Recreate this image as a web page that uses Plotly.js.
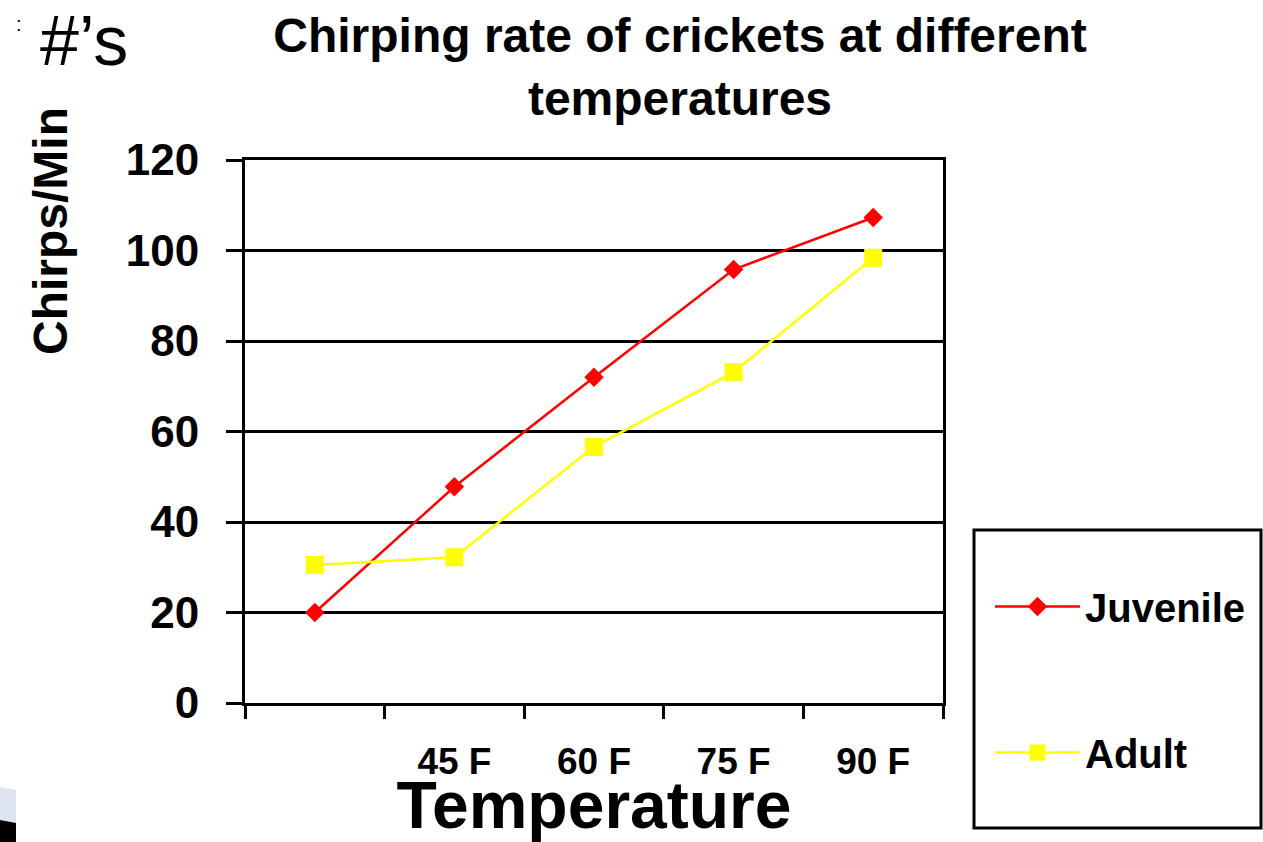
<!DOCTYPE html>
<html>
<head>
<meta charset="utf-8">
<script src="https://cdn.plot.ly/plotly-3.0.1.min.js"></script>
<style>
  html, body { margin: 0; padding: 0; background: #ffffff; }
  #chart { width: 1263px; height: 842px; }
</style>
</head>
<body>
<div id="chart"></div>
<script>
// ---- data ----
const categoryIndex = [0, 1, 2, 3, 4];
const tickLabels = ["", "45 F", "60 F", "75 F", "90 F"];
const juvenile = [20, 47.8, 72, 95.8, 107.3];
const adult = [30.5, 32.2, 56.6, 73.1, 98.4];
const yTicks = [0, 20, 40, 60, 80, 100, 120];
const seriesNames = ["Juvenile", "Adult"];

const FONT = "Arial, 'Liberation Sans', sans-serif";
const boundaries = [-0.5, 0.5, 1.5, 2.5, 3.5, 4.5];

const traces = [
  {
    x: categoryIndex, y: juvenile, name: seriesNames[0], type: "scatter", mode: "lines+markers",
    legendgroup: "g1",
    line: { color: "#ff0000", width: 2.5 },
    marker: { symbol: "diamond", size: 15, color: "#ff0000" }
  },
  {
    x: categoryIndex, y: adult, name: seriesNames[1], type: "scatter", mode: "lines+markers",
    legendgroup: "g2",
    line: { color: "#ffff00", width: 2.5 },
    marker: { symbol: "square", size: 18, color: "#ffff00" }
  }
];

const L = 245, R = 943, T = 160, B = 703;
const px = v => (v - L) / (R - L);
const py = v => (B - v) / (B - T);

const layout = {
  width: 1263, height: 842,
  margin: { l: L, r: 1263 - R, t: T, b: 842 - B },
  paper_bgcolor: "#ffffff", plot_bgcolor: "#ffffff",
  font: { family: FONT, color: "#000000" },
  showlegend: true,
  title: {
    text: "<b>Chirping rate of crickets at different<br>temperatures</b>",
    font: { family: FONT, size: 48, color: "#000000" },
    x: 680 / 1263, xanchor: "center", y: 0.938, yanchor: "top"
  },
  xaxis: {
    range: [-0.5, 4.5],
    tickmode: "array", tickvals: categoryIndex, ticktext: tickLabels,
    ticks: "outside", ticklen: 0,
    tickfont: { family: FONT, size: 37, color: "#000000", weight: "bold" },
    ticklabelstandoff: 24,
    minor: { tickmode: "array", tickvals: boundaries, ticks: "outside", ticklen: 13, tickwidth: 3, tickcolor: "#000000" },
    showgrid: false, zeroline: false,
    showline: true, linecolor: "#000000", linewidth: 3, mirror: true,
    title: { text: "<b>Temperature</b>", font: { family: FONT, size: 66, color: "#000000" }, standoff: 16 }
  },
  yaxis: {
    range: [0, 120],
    tickmode: "array", tickvals: yTicks,
    ticks: "outside", ticklen: 16, tickwidth: 3, tickcolor: "#000000",
    tickfont: { family: FONT, size: 44, color: "#000000", weight: "bold" },
    ticklabelstandoff: 18,
    showgrid: true, gridcolor: "#000000", gridwidth: 3,
    zeroline: false,
    showline: true, linecolor: "#000000", linewidth: 3, mirror: true
  },
  legend: {
    x: px(990), xanchor: "left", y: py(574), yanchor: "top",
    font: { family: FONT, size: 40, color: "#000000", weight: "bold" },
    itemwidth: 85, tracegroupgap: 91,
    bgcolor: "rgba(0,0,0,0)", borderwidth: 0
  },
  annotations: [
    {
      text: "<b>Chirps/Min</b>", textangle: -90, showarrow: false,
      xref: "paper", yref: "paper", x: px(50), y: py(231), xanchor: "center", yanchor: "middle",
      font: { family: FONT, size: 48, color: "#000000" }
    },
    {
      text: "#’s", showarrow: false,
      xref: "paper", yref: "paper", x: px(38), y: py(41), xanchor: "left", yanchor: "middle",
      font: { family: FONT, size: 70, color: "#000000" }
    },
    {
      text: ":", showarrow: false,
      xref: "paper", yref: "paper", x: px(19), y: py(24), xanchor: "center", yanchor: "middle",
      font: { family: FONT, size: 20, color: "#000000" }
    }
  ],
  shapes: [
    { type: "rect", xref: "paper", yref: "paper",
      x0: px(974), x1: px(1261), y0: py(530), y1: py(828),
      line: { color: "#000000", width: 3 }, fillcolor: "rgba(0,0,0,0)" },
    { type: "path", xref: "paper", yref: "paper",
      path: `M ${px(0)} ${py(787)} L ${px(16)} ${py(790)} L ${px(16)} ${py(823)} L ${px(0)} ${py(820)} Z`,
      line: { width: 0 }, fillcolor: "#dde3ef" },
    { type: "path", xref: "paper", yref: "paper",
      path: `M ${px(0)} ${py(820)} L ${px(16)} ${py(823)} L ${px(16)} ${py(842)} L ${px(0)} ${py(842)} Z`,
      line: { width: 0 }, fillcolor: "#000000" }
  ]
};

Plotly.newPlot("chart", traces, layout, { displayModeBar: false, staticPlot: true });
</script>
</body>
</html>
